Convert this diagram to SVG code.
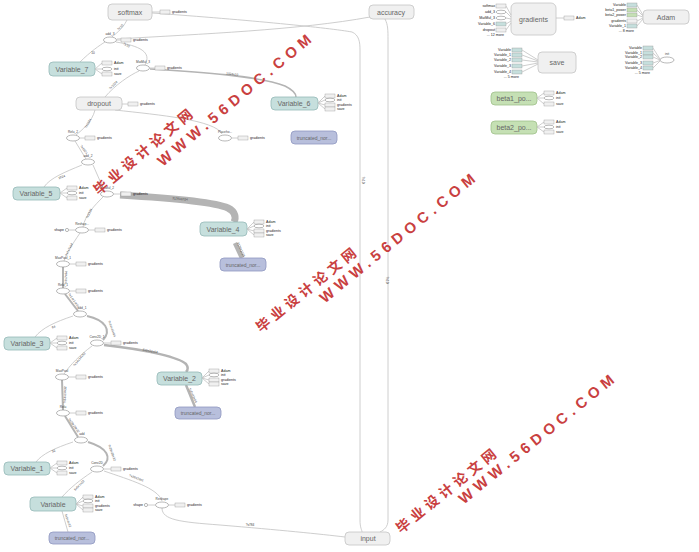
<svg xmlns="http://www.w3.org/2000/svg" width="699" height="552" viewBox="0 0 699 552">
<style>
.n{stroke-width:0.8}
.g{fill:#f0f0f0;stroke:#c4c4c4}
.t{fill:#c6dfdd;stroke:#95b9b7}
.b{fill:#b8bfdc;stroke:#8f98c0}
.gr{fill:#c5e0b4;stroke:#9fc08a}
.nl{font-family:"Liberation Sans",Arial,sans-serif;font-size:7px;fill:#666;text-anchor:middle;dominant-baseline:central}
.sl{font-family:"Liberation Sans",Arial,sans-serif;font-size:3.6px;fill:#222;dominant-baseline:central}
.el{font-family:"Liberation Sans",Arial,sans-serif;font-size:3.2px;fill:#444;text-anchor:middle}
.op{fill:#fff;stroke:#8a8a8a;stroke-width:0.6}
.st{stroke:#9a9a9a;stroke-width:0.4}
.e{fill:none;stroke:#c2c2c2;stroke-width:0.8}
.k{fill:none;stroke:#b4b4b4}
.wm{font-family:"Liberation Sans","Noto Sans CJK SC",sans-serif;font-weight:bold;fill:#c94040;text-anchor:middle;dominant-baseline:central}
</style>
<defs>
<g id="sg"><rect x="0" y="-2" width="10" height="4" class="g st"/></g>
<g id="stt"><rect x="0" y="-2" width="10" height="4" class="t st"/></g>
<g id="sgr"><rect x="0" y="-2" width="10" height="4" class="gr st"/></g>
<g id="se"><ellipse cx="5" cy="0" rx="5" ry="1.8" class="op"/></g>
<g id="oe"><ellipse cx="0" cy="0" rx="6.5" ry="3" class="op"/></g>
</defs>
<rect x="0" y="0" width="699" height="552" fill="#fff"/>

<g id="connectors">
<path class="e" d="M127,20 C122,30 115,34 112,37"/>
<path class="e" d="M152,13 C250,20 330,28 352,32 C359,35 360,42 360,50 L360,520 C360,528 362,530 362,532"/>
<path class="e" d="M117,39 C200,34 300,30 370,17"/>
<path class="e" d="M385,19 C388,25 388,30 388,40 L388,520 C388,527 384,530 380,532"/>
<path class="e" d="M116,42 C140,46 152,52 145,65"/>
<path class="e" d="M80,62 C90,52 100,45 105,42"/>
<path class="k" stroke-width="1.6" d="M150,69 C200,72 260,76 285,86 C293,90 296,94 296,97"/>
<path class="e" d="M105,97 C115,85 130,75 139,71"/>
<path class="e" d="M115,110 C160,115 215,120 222,134"/>
<path class="e" d="M95,110 C92,122 82,130 76,135"/>
<path class="e" d="M75,141 L86,159"/>
<path class="e" d="M82,165 C65,172 50,178 44,187"/>
<path class="e" d="M93,165 L104,190"/>
<path class="k" stroke-width="7" d="M120,195 C170,198 215,202 228,208 C236,212 236,218 234,222"/>
<path class="k" stroke-width="4.5" d="M235,243 L242,258"/>
<path class="e" d="M103,197 C95,205 85,215 83,227"/>
<path class="e" d="M80,233 C72,245 67,252 64,261"/>
<path class="k" stroke-width="2" d="M63,267 L63,288"/>
<path class="k" stroke-width="2" d="M65,294 L78,311"/>
<path class="e" d="M73,316 C55,322 42,328 35,337"/>
<path class="k" stroke-width="2" d="M87,316 C105,320 112,330 103,340"/>
<path class="k" stroke-width="2.5" d="M104,345 C150,350 180,358 186,364 C189,368 187,371 186,372"/>
<path class="k" stroke-width="2.5" d="M186,385 L195,407"/>
<path class="e" d="M92,346 C80,355 70,365 64,374"/>
<path class="k" stroke-width="2" d="M62,380 L63,410"/>
<path class="k" stroke-width="2" d="M65,416 L78,437"/>
<path class="e" d="M73,442 C55,448 42,454 36,462"/>
<path class="k" stroke-width="2" d="M88,442 C108,448 112,458 103,466"/>
<path class="e" d="M92,472 C80,480 70,488 62,497"/>
<path class="e" d="M62,511 L68,532"/>
<path class="e" d="M104,471 C130,480 158,488 162,501"/>
<path class="e" d="M162,508 C162,520 180,522 220,525 C280,530 320,534 345,537"/>
</g>

<g id="edge-labels">
<text class="el" transform="translate(126,46) rotate(30)">?x10</text>
<text class="el" transform="translate(121,28) rotate(-45)">?x10</text>
<text class="el" x="93" y="54">10</text>
<text class="el" transform="translate(114,86) rotate(-45)">?x1024</text>
<text class="el" transform="translate(232,75) rotate(8)">1024x10</text>
<text class="el" transform="translate(89,124) rotate(-60)">?x1024</text>
<text class="el" transform="translate(83,150) rotate(55)">?x1024</text>
<text class="el" transform="translate(62,178) rotate(-20)">1024</text>
<text class="el" transform="translate(180,200) rotate(5)">3136x1024</text>
<text class="el" transform="translate(90,214) rotate(-65)">?x3136</text>
<text class="el" transform="translate(240,250) rotate(65)">3136x1024</text>
<text class="el" transform="translate(70,250) rotate(-65)">?x7x7x64</text>
<text class="el" transform="translate(67,278) rotate(-88)">?x7x7x64</text>
<text class="el" transform="translate(73,301) rotate(55)">?x14x14x64</text>
<text class="el" transform="translate(54,328) rotate(-20)">64</text>
<text class="el" transform="translate(111,329) rotate(70)">?x14x14x64</text>
<text class="el" transform="translate(150,352) rotate(10)">5x5x32x64</text>
<text class="el" transform="translate(192,396) rotate(65)">5x5x32x64</text>
<text class="el" transform="translate(80,360) rotate(-50)">?x14x14x32</text>
<text class="el" transform="translate(66,395) rotate(-88)">?x14x14x32</text>
<text class="el" transform="translate(73,426) rotate(55)">?x28x28x32</text>
<text class="el" transform="translate(54,452) rotate(-20)">32</text>
<text class="el" transform="translate(111,453) rotate(70)">?x28x28x32</text>
<text class="el" transform="translate(80,486) rotate(-45)">5x5x1x32</text>
<text class="el" transform="translate(67,521) rotate(70)">5x5x1x32</text>
<text class="el" transform="translate(136,479) rotate(20)">?x28x28x1</text>
<text class="el" x="250" y="526">?x784</text>
<text class="el" transform="translate(362,180) rotate(90)">?x10</text>
<text class="el" transform="translate(386,280) rotate(90)">?x10</text>
</g>

<g id="softmax"><rect x="108" y="4" width="44" height="16" rx="4" class="n g"/><text class="nl" x="130" y="12">softmax</text>
<line x1="152" y1="12" x2="160" y2="12" class="e"/><use href="#sg" x="160" y="12"/><text class="sl" x="172" y="12">gradients</text></g>
<g id="accuracy"><rect x="369" y="5" width="45" height="14" rx="4" class="n g"/><text class="nl" x="391" y="12">accuracy</text></g>
<g id="input"><rect x="345" y="532" width="45" height="13" rx="4" class="n g"/><text class="nl" x="368" y="538.5">input</text></g>

<g id="add_3"><use href="#oe" x="110" y="40"/><text class="el" x="110" y="35">add_3</text>
<line x1="116" y1="40" x2="121" y2="40" class="e"/><use href="#sg" x="121" y="40"/><text class="sl" x="133" y="40">gradients</text></g>
<g id="MatMul_3"><use href="#oe" x="143" y="68"/><text class="el" x="143" y="63">MatMul_3</text>
<line x1="149" y1="68" x2="155" y2="68" class="e"/><use href="#sg" x="155" y="68"/><text class="sl" x="167" y="68">gradients</text></g>
<g id="dropout"><rect x="76" y="97" width="46" height="13" rx="4" class="n g"/><text class="nl" x="99" y="103.5">dropout</text>
<line x1="122" y1="104" x2="128" y2="104" class="e"/><use href="#sg" x="128" y="104"/><text class="sl" x="140" y="104">gradients</text></g>
<g id="Relu_2"><use href="#oe" x="73" y="138"/><text class="el" x="73" y="133">Relu_2</text>
<line x1="79" y1="138" x2="85" y2="138" class="e"/><use href="#sg" x="85" y="138"/><text class="sl" x="97" y="138">gradients</text></g>
<g id="Placeholder"><use href="#oe" x="225" y="138"/><text class="el" x="225" y="133">Placeho...</text>
<line x1="231" y1="138" x2="238" y2="138" class="e"/><use href="#sg" x="238" y="138"/><text class="sl" x="250" y="138">gradients</text></g>
<g id="add_2"><use href="#oe" x="88" y="162"/><text class="el" x="88" y="157">add_2</text></g>
<g id="MatMul_2"><use href="#oe" x="107" y="194"/><text class="el" x="107" y="189">MatMul_2</text>
<line x1="113" y1="194" x2="121" y2="194" class="e"/><use href="#sg" x="121" y="194"/><text class="sl" x="133" y="194">gradients</text></g>
<g id="Reshape_1"><use href="#oe" x="82" y="230"/><text class="el" x="82" y="225">Reshap...</text>
<circle cx="67" cy="230" r="1.6" class="op"/><line x1="68.6" y1="230" x2="75.5" y2="230" class="e"/><text class="sl" x="64" y="230" text-anchor="end">shape</text>
<line x1="88" y1="230" x2="95" y2="230" class="e"/><use href="#sg" x="95" y="230"/><text class="sl" x="107" y="230">gradients</text></g>
<g id="MaxPool_1"><use href="#oe" x="63" y="264"/><text class="el" x="63" y="259">MaxPool_1</text>
<line x1="69" y1="264" x2="76" y2="264" class="e"/><use href="#sg" x="76" y="264"/><text class="sl" x="88" y="264">gradients</text></g>
<g id="Relu_1"><use href="#oe" x="63" y="291"/><text class="el" x="63" y="286">Relu_1</text>
<line x1="69" y1="291" x2="76" y2="291" class="e"/><use href="#sg" x="76" y="291"/><text class="sl" x="88" y="291">gradients</text></g>
<g id="add_1"><use href="#oe" x="80" y="314"/><text class="el" x="82" y="309">add_1</text></g>
<g id="Conv2D_1"><use href="#oe" x="97" y="343"/><text class="el" x="97" y="338">Conv2D_1</text>
<line x1="103" y1="343" x2="111" y2="343" class="e"/><use href="#sg" x="111" y="343"/><text class="sl" x="123" y="343">gradients</text></g>
<g id="MaxPool"><use href="#oe" x="62" y="377"/><text class="el" x="62" y="372">MaxPool</text>
<line x1="68" y1="377" x2="76" y2="377" class="e"/><use href="#sg" x="76" y="377"/><text class="sl" x="88" y="377">gradients</text></g>
<g id="Relu"><use href="#oe" x="63" y="413"/><text class="el" x="63" y="408">Relu</text>
<line x1="69" y1="413" x2="76" y2="413" class="e"/><use href="#sg" x="76" y="413"/><text class="sl" x="88" y="413">gradients</text></g>
<g id="add"><use href="#oe" x="81" y="440"/><text class="el" x="82" y="435">add</text></g>
<g id="Conv2D"><use href="#oe" x="97" y="469"/><text class="el" x="97" y="464">Conv2D</text>
<line x1="103" y1="469" x2="111" y2="469" class="e"/><use href="#sg" x="111" y="469"/><text class="sl" x="123" y="469">gradients</text></g>
<g id="Reshape"><use href="#oe" x="162" y="505"/><text class="el" x="162" y="500">Reshape</text>
<circle cx="146" cy="505" r="1.6" class="op"/><line x1="147.6" y1="505" x2="155.5" y2="505" class="e"/><text class="sl" x="143" y="505" text-anchor="end">shape</text>
<line x1="168" y1="505" x2="175" y2="505" class="e"/><use href="#sg" x="175" y="505"/><text class="sl" x="187" y="505">gradients</text></g>

<g id="Variable_7"><rect x="49" y="62" width="46" height="14" rx="4" class="n t"/><text class="nl" x="72" y="69">Variable_7</text>
<path class="e" d="M95,69 L102,63 M95,69 L102,69 M95,69 L102,74"/>
<use href="#sg" x="102" y="63"/><use href="#se" x="102" y="69"/><use href="#sg" x="102" y="74"/>
<text class="sl" x="114" y="63">Adam</text><text class="sl" x="114" y="69">init</text><text class="sl" x="114" y="74">save</text></g>
<g id="Variable_6"><rect x="271" y="97" width="47" height="13" rx="4" class="n t"/><text class="nl" x="294" y="103.5">Variable_6</text>
<path class="e" d="M318,103 L325,96 M318,103 L325,100 M318,103 L325,105 M318,103 L325,109"/>
<use href="#sg" x="325" y="96"/><use href="#se" x="325" y="100"/><use href="#sg" x="325" y="105"/><use href="#sg" x="325" y="109"/>
<text class="sl" x="337" y="96">Adam</text><text class="sl" x="337" y="100">init</text><text class="sl" x="337" y="105">gradients</text><text class="sl" x="337" y="109">save</text></g>
<g id="truncated_normal_3"><rect x="291" y="131" width="46" height="13" rx="4" class="n b"/><text class="nl" x="314" y="137.5" style="font-size:5px">truncated_nor...</text></g>
<g id="Variable_5"><rect x="13" y="187" width="47" height="13" rx="4" class="n t"/><text class="nl" x="36" y="193.5">Variable_5</text>
<path class="e" d="M60,193 L67,188 M60,193 L67,193 M60,193 L67,198"/>
<use href="#sg" x="67" y="188"/><use href="#se" x="67" y="193"/><use href="#sg" x="67" y="198"/>
<text class="sl" x="79" y="188">Adam</text><text class="sl" x="79" y="193">init</text><text class="sl" x="79" y="198">save</text></g>
<g id="Variable_4"><rect x="200" y="222" width="47" height="14" rx="4" class="n t"/><text class="nl" x="223" y="229">Variable_4</text>
<path class="e" d="M247,229 L254,222 M247,229 L254,226 M247,229 L254,231 M247,229 L254,235"/>
<use href="#sg" x="254" y="222"/><use href="#se" x="254" y="226"/><use href="#sg" x="254" y="231"/><use href="#sg" x="254" y="235"/>
<text class="sl" x="266" y="222">Adam</text><text class="sl" x="266" y="226">init</text><text class="sl" x="266" y="231">gradients</text><text class="sl" x="266" y="235">save</text></g>
<g id="truncated_normal_2"><rect x="220" y="258" width="46" height="13" rx="4" class="n b"/><text class="nl" x="243" y="264.5" style="font-size:5px">truncated_nor...</text></g>
<g id="Variable_3"><rect x="4" y="337" width="46" height="13" rx="4" class="n t"/><text class="nl" x="27" y="343.5">Variable_3</text>
<path class="e" d="M50,343 L57,338 M50,343 L57,343 M50,343 L57,348"/>
<use href="#sg" x="57" y="338"/><use href="#se" x="57" y="343"/><use href="#sg" x="57" y="348"/>
<text class="sl" x="69" y="338">Adam</text><text class="sl" x="69" y="343">init</text><text class="sl" x="69" y="348">save</text></g>
<g id="Variable_2"><rect x="157" y="372" width="45" height="13" rx="4" class="n t"/><text class="nl" x="179.5" y="378.5">Variable_2</text>
<path class="e" d="M202,378 L209,371 M202,378 L209,375 M202,378 L209,380 M202,378 L209,384"/>
<use href="#sg" x="209" y="371"/><use href="#se" x="209" y="375"/><use href="#sg" x="209" y="380"/><use href="#sg" x="209" y="384"/>
<text class="sl" x="221" y="371">Adam</text><text class="sl" x="221" y="375">init</text><text class="sl" x="221" y="380">gradients</text><text class="sl" x="221" y="384">save</text></g>
<g id="truncated_normal_1"><rect x="175" y="407" width="46" height="12" rx="4" class="n b"/><text class="nl" x="198" y="413" style="font-size:5px">truncated_nor...</text></g>
<g id="Variable_1"><rect x="4" y="462" width="46" height="13" rx="4" class="n t"/><text class="nl" x="27" y="468.5">Variable_1</text>
<path class="e" d="M50,468 L57,463 M50,468 L57,468 M50,468 L57,473"/>
<use href="#sg" x="57" y="463"/><use href="#se" x="57" y="468"/><use href="#sg" x="57" y="473"/>
<text class="sl" x="69" y="463">Adam</text><text class="sl" x="69" y="468">init</text><text class="sl" x="69" y="473">save</text></g>
<g id="Variable"><rect x="30" y="497" width="46" height="14" rx="4" class="n t"/><text class="nl" x="53" y="504">Variable</text>
<path class="e" d="M76,504 L83,497 M76,504 L83,501 M76,504 L83,506 M76,504 L83,510"/>
<use href="#sg" x="83" y="497"/><use href="#se" x="83" y="501"/><use href="#sg" x="83" y="506"/><use href="#sg" x="83" y="510"/>
<text class="sl" x="95" y="497">Adam</text><text class="sl" x="95" y="501">init</text><text class="sl" x="95" y="506">gradients</text><text class="sl" x="95" y="510">save</text></g>
<g id="truncated_normal"><rect x="49" y="532" width="46" height="12" rx="4" class="n b"/><text class="nl" x="72" y="538" style="font-size:5px">truncated_nor...</text></g>

<g id="gradients"><rect x="511" y="3" width="45" height="32" rx="5" class="n g"/><text class="nl" x="533.5" y="19">gradients</text>
<use href="#sg" x="496" y="6"/><use href="#se" x="496" y="12"/><use href="#se" x="496" y="18"/><use href="#stt" x="496" y="24"/><use href="#sg" x="496" y="30"/>
<g class="sl" text-anchor="end"><text x="495" y="6">softmax</text><text x="495" y="12">add_3</text><text x="495" y="18">MatMul_3</text><text x="495" y="24">Variable_6</text><text x="495" y="30">dropout</text><text x="504" y="35">... 12 more</text></g>
<path class="e" d="M506,6 L511,15 M506,12 L511,17 M506,18 L511,19 M506,24 L511,21 M506,30 L511,23"/>
<line x1="556" y1="18" x2="564" y2="18" class="e"/><use href="#sg" x="564" y="18"/><text class="sl" x="576" y="18">Adam</text></g>
<g id="Adam"><rect x="643" y="10" width="46" height="14" rx="4" class="n g"/><text class="nl" x="666" y="17">Adam</text>
<use href="#stt" x="627" y="5"/><use href="#sgr" x="627" y="10"/><use href="#sgr" x="627" y="15"/><use href="#sg" x="627" y="21"/><use href="#stt" x="627" y="26"/>
<g class="sl" text-anchor="end"><text x="626" y="5">Variable</text><text x="626" y="10">beta1_power</text><text x="626" y="15">beta2_power</text><text x="626" y="21">gradients</text><text x="626" y="26">Variable_1</text><text x="634" y="31">... 8 more</text></g>
<path class="e" d="M637,5 L643,15 M637,10 L643,16 M637,15 L643,17 M637,21 L643,18 M637,26 L643,19"/></g>
<g id="save"><rect x="538" y="52" width="38" height="21" rx="4" class="n g"/><text class="nl" x="557" y="62.5">save</text>
<use href="#stt" x="512" y="50"/><use href="#stt" x="512" y="55"/><use href="#stt" x="512" y="60"/><use href="#stt" x="512" y="66"/><use href="#stt" x="512" y="72"/>
<g class="sl" text-anchor="end"><text x="511" y="50">Variable</text><text x="511" y="55">Variable_1</text><text x="511" y="60">Variable_2</text><text x="511" y="66">Variable_3</text><text x="511" y="72">Variable_4</text><text x="519" y="77">... 5 more</text></g>
<path class="e" d="M522,50 L538,60 M522,55 L538,61 M522,60 L538,62 M522,66 L538,63 M522,72 L538,64"/></g>
<g id="init"><ellipse cx="667" cy="60" rx="7" ry="3" class="op"/><text class="el" x="667" y="55">init</text>
<use href="#stt" x="643" y="48"/><use href="#stt" x="643" y="53"/><use href="#stt" x="643" y="57"/><use href="#stt" x="643" y="63"/><use href="#stt" x="643" y="68"/>
<g class="sl" text-anchor="end"><text x="642" y="48">Variable</text><text x="642" y="53">Variable_1</text><text x="642" y="57">Variable_2</text><text x="642" y="63">Variable_3</text><text x="642" y="68">Variable_4</text><text x="650" y="73">... 5 more</text></g>
<path class="e" d="M653,48 L660,59 M653,53 L660,59.5 M653,57 L660,60 M653,63 L660,60.5 M653,68 L660,61"/></g>
<g id="beta1_power"><rect x="491" y="92" width="46" height="13" rx="4" class="n gr"/><text class="nl" x="514" y="98.5">beta1_po...</text>
<path class="e" d="M537,98 L544,93 M537,98 L544,98 M537,98 L544,104"/>
<use href="#sg" x="544" y="93"/><use href="#se" x="544" y="98"/><use href="#sg" x="544" y="104"/>
<text class="sl" x="556" y="93">Adam</text><text class="sl" x="556" y="98">init</text><text class="sl" x="556" y="104">save</text></g>
<g id="beta2_power"><rect x="491" y="121" width="46" height="13" rx="4" class="n gr"/><text class="nl" x="514" y="127.5">beta2_po...</text>
<path class="e" d="M537,127 L544,122 M537,127 L544,127 M537,127 L544,132"/>
<use href="#sg" x="544" y="122"/><use href="#se" x="544" y="127"/><use href="#sg" x="544" y="132"/>
<text class="sl" x="556" y="122">Adam</text><text class="sl" x="556" y="127">init</text><text class="sl" x="556" y="132">save</text></g>

<g id="watermark">
<text class="wm" font-size="15" transform="translate(234,100) rotate(-40)" textLength="195" lengthAdjust="spacing">WWW.56DOC.COM</text>
<text class="wm" font-size="14" transform="translate(143,152) rotate(-40)" textLength="124" lengthAdjust="spacing">毕业设计论文网</text>
<text class="wm" font-size="15" transform="translate(397,238) rotate(-39)" textLength="195" lengthAdjust="spacing">WWW.56DOC.COM</text>
<text class="wm" font-size="14" transform="translate(306,290) rotate(-39)" textLength="124" lengthAdjust="spacing">毕业设计论文网</text>
<text class="wm" font-size="15" transform="translate(536,439) rotate(-39)" textLength="195" lengthAdjust="spacing">WWW.56DOC.COM</text>
<text class="wm" font-size="14" transform="translate(446,491) rotate(-39)" textLength="124" lengthAdjust="spacing">毕业设计论文网</text>
</g>
</svg>
